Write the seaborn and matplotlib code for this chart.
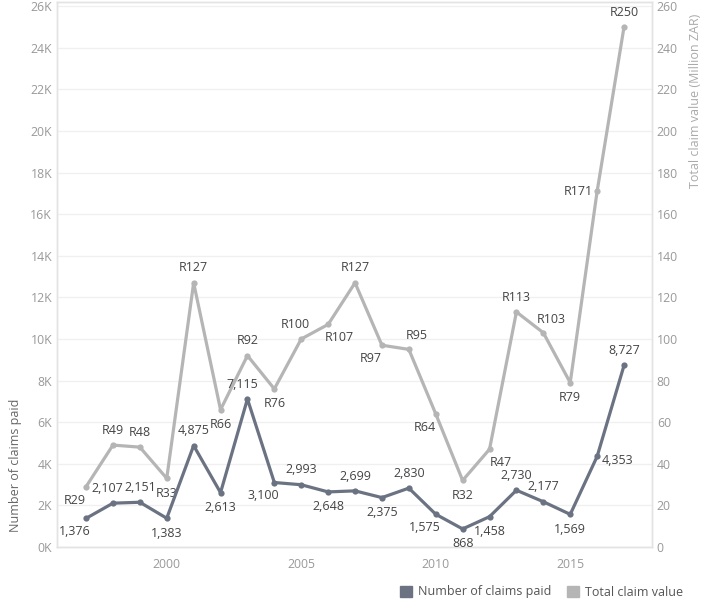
import matplotlib.pyplot as plt
import matplotlib.patches as mpatches
import seaborn as sns
import pandas as pd

years = list(range(1997, 2018))
claims_paid = [1376, 2107, 2151, 1383, 4875, 2613, 7115, 3100, 2993, 2648, 2699,
               2375, 2830, 1575, 868, 1458, 2730, 2177, 1569, 4353, 8727]
claim_value = [29, 49, 48, 33, 127, 66, 92, 76, 100, 107, 127,
               97, 95, 64, 32, 47, 113, 103, 79, 171, 250]

# where each data label sits relative to its point
claims_pos = ['bl', 'al', 'a', 'b', 'a', 'b', 'al', 'bl', 'a', 'b', 'a',
              'b', 'a', 'bl', 'b', 'b', 'a', 'a', 'b', 'r', 'a']
value_pos = ['bl', 'a', 'a', 'b', 'a', 'b', 'a', 'b', 'al', 'br', 'a',
             'bl', 'ar', 'bl', 'b', 'br', 'a', 'ar', 'b', 'l', 'a']

dark = '#6b7383'
light = '#b5b5b5'

df = pd.DataFrame({'Year': years, 'Claims': claims_paid, 'Value': claim_value})

sns.set_theme(style="white")
plt.rcParams['font.family'] = ['Open Sans', 'DejaVu Sans']

fig = plt.figure(figsize=(7.09, 6.0), dpi=100)
ax = fig.add_axes([57 / 709, 53 / 600, 595 / 709, 545 / 600])
ax2 = ax.twinx()

sns.lineplot(data=df, x='Year', y='Value', ax=ax2, color=light, linewidth=2.3,
             marker='o', markersize=4.5, markeredgewidth=0)
sns.lineplot(data=df, x='Year', y='Claims', ax=ax, color=dark, linewidth=2.3,
             marker='o', markersize=4.5, markeredgewidth=0)

ax.set_zorder(ax2.get_zorder() + 1)
ax.patch.set_visible(False)

offsets = {'a': (0, 6, 'center', 'bottom'), 'b': (0, -6, 'center', 'top'),
           'al': (-4, 6, 'center', 'bottom'), 'ar': (6, 5, 'center', 'bottom'),
           'bl': (-8, -5, 'center', 'top'), 'br': (8, -5, 'center', 'top'),
           'l': (-3, 0, 'right', 'center'), 'r': (3, -3, 'left', 'center')}

for x, v, p in zip(years, claims_paid, claims_pos):
    dx, dy, ha, va = offsets[p]
    ax.annotate(f'{v:,}', (x, v), xytext=(dx, dy), textcoords='offset points',
                ha=ha, va=va, fontsize=9, color='#444444')
for x, v, p in zip(years, claim_value, value_pos):
    dx, dy, ha, va = offsets[p]
    ax2.annotate(f'R{v}', (x, v), xytext=(dx, dy), textcoords='offset points',
                 ha=ha, va=va, fontsize=9, color='#444444')

ax.set_xlim(1995.92, 2018.04)
ax.set_ylim(0, 26200)
ax2.set_ylim(0, 262)
ax.set_xticks([2000, 2005, 2010, 2015])
ax.set_yticks(range(0, 26001, 2000))
ax.set_yticklabels([f'{v // 1000}K' for v in range(0, 26001, 2000)])
ax2.set_yticks(range(0, 261, 20))

ax2.grid(True, axis='y', color='#f0f0f0', linewidth=1)
ax.grid(False)

for a in (ax, ax2):
    a.tick_params(axis='both', length=0, labelsize=8.8, labelcolor='#999999')
    for s in a.spines.values():
        s.set_color('#e3e3e3')
        s.set_linewidth(1)
ax.tick_params(axis='x', pad=8)

ax.set_xlabel('')
ax.set_ylabel('Number of claims paid', fontsize=9, color='#666666')
ax.yaxis.set_label_coords(-0.058, 0.149)
ax2.set_ylabel('Total claim value (Million ZAR)', fontsize=9, color='#aaaaaa')
ax2.yaxis.set_label_coords(1.063, 0.818)

handles = [mpatches.Patch(color=dark, label='Number of claims paid'),
           mpatches.Patch(color=light, label='Total claim value')]
fig.legend(handles=handles, loc='center right', bbox_to_anchor=(0.98, 1 - 592 / 600),
           ncol=2, frameon=False, fontsize=9, handlelength=1.0, handleheight=1.0,
           handletextpad=0.5, columnspacing=1.2, labelcolor='#555555')

plt.savefig('out.png', dpi=100)
